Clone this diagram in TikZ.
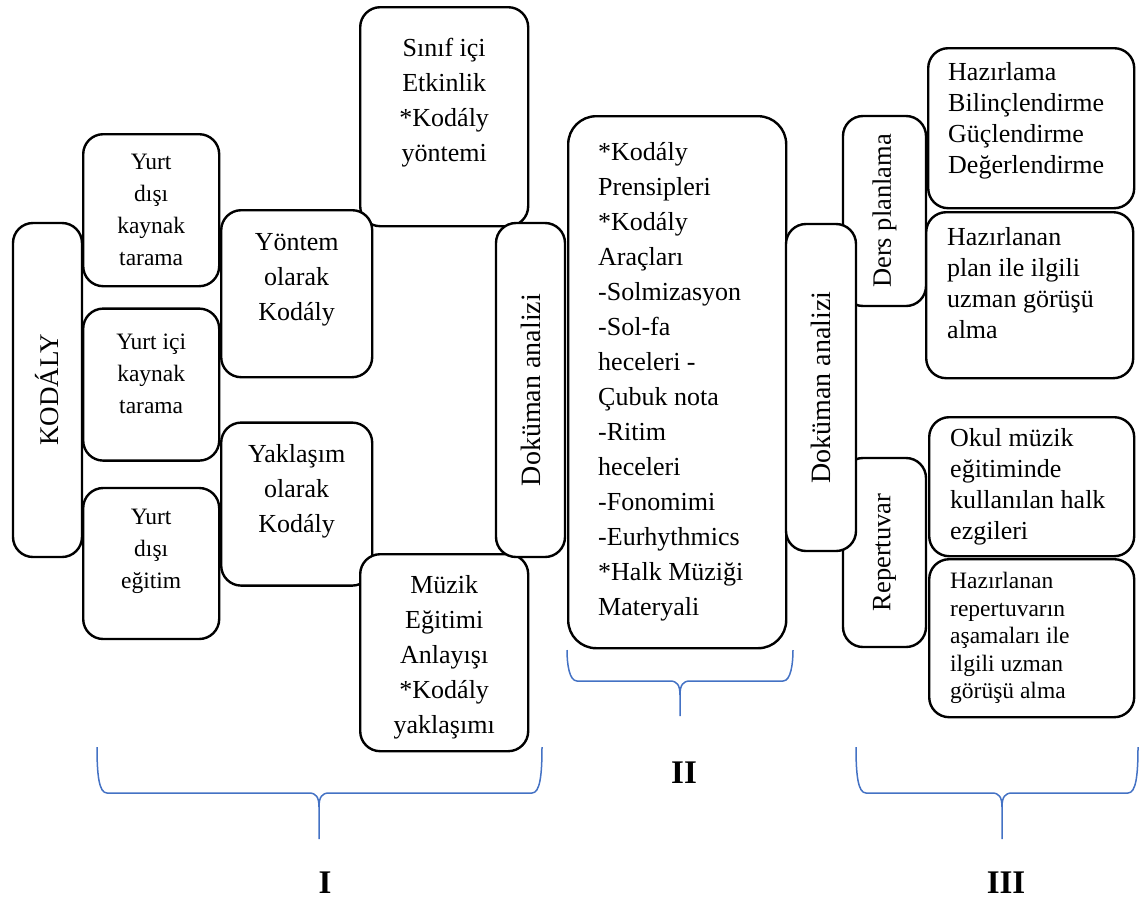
\documentclass[tikz,border=0pt]{standalone}
\usepackage{fontspec}
\setmainfont{Liberation Serif}
\usetikzlibrary{positioning}
\definecolor{braceblue}{RGB}{68,114,196}

\begin{document}
\begin{tikzpicture}[
  x=1pt, y=-1pt,
  frame/.style ={rectangle, rounded corners=20pt, draw=black, line width=2.4pt,
                 fill=white, inner sep=0pt},
  vframe/.style={frame, rotate=90, font=\fontsize{27}{30}\selectfont},
  txt/.style   ={inner sep=0pt, align=center, font=\fontsize{26}{35}\selectfont},
  txtsm/.style ={txt, font=\fontsize{23.5}{32}\selectfont},
  list/.style  ={txt, align=left},
  txtl/.style  ={txt, align=left, font=\fontsize{26}{31}\selectfont},
  num/.style   ={inner sep=0pt, font=\fontsize{33}{36}\selectfont\bfseries},
  brace/.style ={draw=braceblue, line width=1.5pt},
]
\useasboundingbox (0,0) rectangle (1140,900);

% --- Bölüm I ---
\node[vframe, minimum width=334pt, minimum height=69pt] (kodaly) at (47.5,390) {KODÁLY};

\node[frame, minimum width=136pt, minimum height=152pt, anchor=north west] (ydk) at (82,133) {};
\node[frame, minimum width=136pt, minimum height=152pt, below=20pt of ydk] (yik) {};
\node[frame, minimum width=136pt, minimum height=151pt, below=25pt of yik] (yde) {};
\node[txtsm] (ydk-t) at (ydk.center) {Yurt\\dışı\\kaynak\\tarama};
\node[txtsm] (yik-t) at ([yshift=11pt]yik.center) {Yurt içi\\kaynak\\tarama};
\node[txtsm] (yde-t) at ([yshift=12pt]yde.center) {Yurt\\dışı\\eğitim};

\node[frame, minimum width=168pt, minimum height=219pt, anchor=north west] (sinif) at (359,6) {};
\node[txt] (sinif-t) at ([yshift=14pt]sinif.center) {Sınıf içi\\Etkinlik\\*Kodály\\yöntemi};

\node[frame, minimum width=151pt, minimum height=167pt, anchor=north west] (yontem) at (220,209) {};
\node[frame, minimum width=151pt, minimum height=163pt, below=43pt of yontem] (yaklasim) {};
\node[txt] (yontem-t) at ([yshift=14pt]yontem.center) {Yöntem\\olarak\\Kodály};
\node[txt] (yaklasim-t) at ([yshift=13pt]yaklasim.center) {Yaklaşım\\olarak\\Kodály};

\node[frame, minimum width=168pt, minimum height=197pt, anchor=north west] (muzik) at (359,553) {};
\node[txt] (muzik-t) at ([yshift=-5pt]muzik.center) {Müzik\\Eğitimi\\Anlayışı\\*Kodály\\yaklaşımı};

% --- Bölüm II ---
\node[vframe, minimum width=334pt, minimum height=69pt, font=\fontsize{28}{30}\selectfont] (dokI) at (530.5,390) {Doküman analizi};

\node[frame, rounded corners=28pt, minimum width=218pt, minimum height=532pt, anchor=north west] (araclar) at (567,115) {};
\node[list, anchor=west] (araclar-t) at ([xshift=31pt]araclar.west)
  {*Kodály\\Prensipleri\\*Kodály\\Araçları\\-Solmizasyon\\-Sol-fa\\heceleri -\\Çubuk nota\\-Ritim\\heceleri\\-Fonomimi\\-Eurhythmics\\*Halk Müziği\\Materyali};

% --- Bölüm III ---
\node[vframe, minimum width=190pt, minimum height=83pt, font=\fontsize{26.5}{30}\selectfont] (ders) at (884.5,211) {Ders planlama};
\node[vframe, minimum width=189pt, minimum height=83pt, font=\fontsize{26.5}{30}\selectfont] (repertuvar) at (884.5,552.5) {Repertuvar};
\node[vframe, minimum width=327pt, minimum height=70pt, font=\fontsize{28}{30}\selectfont] (dokIII) at (821,387.5) {Doküman analizi};

\node[frame, minimum width=206pt, minimum height=160pt, anchor=north west] (hazirlama) at (927,47) {};
\node[frame, minimum width=207pt, minimum height=166pt, anchor=north west] (plan) at (925,211) {};
\node[frame, minimum width=205pt, minimum height=139pt, anchor=north west] (okul) at (928,416) {};
\node[frame, minimum width=205pt, minimum height=158pt, anchor=north west] (asama) at (928,558) {};

\node[txtl, anchor=west] (hazirlama-t) at ([xshift=21pt, yshift=7pt]hazirlama.west) {Hazırlama\\Bilinçlendirme\\Güçlendirme\\Değerlendirme};
\node[txtl, anchor=west] (plan-t) at ([xshift=22pt, yshift=12pt]plan.west) {Hazırlanan\\plan ile ilgili\\uzman görüşü\\alma};
\node[txtl, anchor=west] (okul-t) at ([xshift=22pt]okul.west) {Okul müzik\\eğitiminde\\kullanılan halk\\ezgileri};
\node[txtl, anchor=west, font=\fontsize{23.5}{27.5}\selectfont] (asama-t) at ([xshift=22pt]asama.west) {Hazırlanan\\repertuvarın\\aşamaları ile\\ilgili uzman\\görüşü alma};

% --- Parantezler ---
\foreach \xa/\xb/\xc/\ya/\yb/\yc in {97/542/319/747/793/839, 567/793/680/650/681/716, 856/1138/1002/747/793/839}{
  \draw[brace] (\xa,\ya) .. controls (\xa,\yb-18) and (\xa+2,\yb) .. (\xa+10,\yb) -- (\xc-10,\yb)
    .. controls (\xc-3,\yb) and (\xc,\yb+4) .. (\xc,\yb+14) -- (\xc,\yc);
  \draw[brace] (\xb,\ya) .. controls (\xb,\yb-18) and (\xb-2,\yb) .. (\xb-10,\yb) -- (\xc+10,\yb)
    .. controls (\xc+3,\yb) and (\xc,\yb+4) .. (\xc,\yb+14);
}

\node[num] (numI)   at (325,883) {I};
\node[num] (numII)  at (684,773) {II};
\node[num] (numIII) at (1006,883) {III};

\end{tikzpicture}
\end{document}
